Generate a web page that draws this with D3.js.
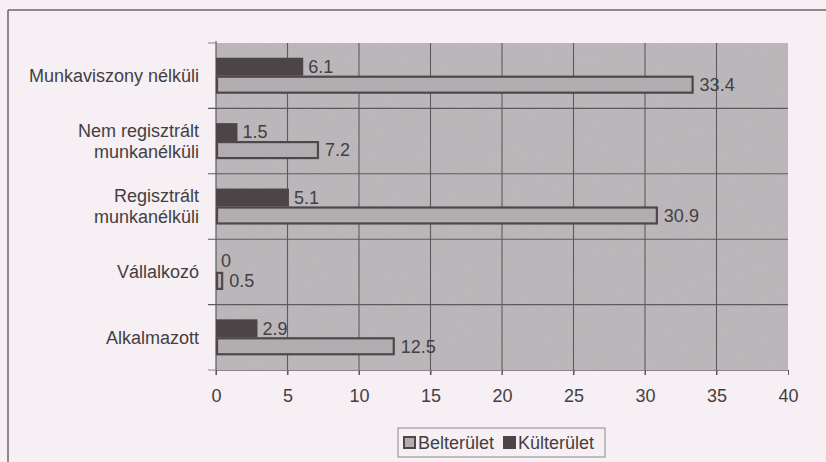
<!DOCTYPE html>
<html>
<head>
<meta charset="utf-8">
<script src="https://cdn.jsdelivr.net/npm/d3@7/dist/d3.min.js"></script>
<style>
  html, body { margin: 0; padding: 0; background: #f6eff4; }
  svg { display: block; }
  text { font-family: "Liberation Sans", Arial, sans-serif; fill: #434043; }
</style>
</head>
<body>
<svg id="chart" width="826" height="462"></svg>
<script>
// Categories, top to bottom
const categories = [
  ["Munkaviszony nélküli"],
  ["Nem regisztrált", "munkanélküli"],
  ["Regisztrált", "munkanélküli"],
  ["Vállalkozó"],
  ["Alkalmazott"]
];
const seriesNames = ["Külterület", "Belterület"];
const kulterulet = [6.1, 1.5, 5.1, 0, 2.9];
const belterulet = [33.4, 7.2, 30.9, 0.5, 12.5];
const xTicks = [0, 5, 10, 15, 20, 25, 30, 35, 40];

const svg = d3.select("#chart");
const W = 826, H = 462;
const plot = { left: 216, right: 788, top: 43, bottom: 370 };
const FS = 18;

const colors = {
  page: "#f6eff4",
  plotBg: "#bcb7ba",
  grid: "#5f5a5d",
  dark: "#4b4548",
  lightFill: "#b2adb0",
  lightStroke: "#4e474a",
  frame: "#6b6669"
};

// Paper grain for the shaded plot area
const defs = svg.append("defs");
const grain = defs.append("filter").attr("id", "grain")
  .attr("x", 0).attr("y", 0).attr("width", 1).attr("height", 1);
grain.append("feTurbulence").attr("type", "fractalNoise")
  .attr("baseFrequency", 0.75).attr("numOctaves", 2).attr("seed", 7).attr("result", "noise");
grain.append("feColorMatrix").attr("in", "noise").attr("type", "saturate").attr("values", 0).attr("result", "gray");
const ct = grain.append("feComponentTransfer").attr("in", "gray").attr("result", "scaled");
["feFuncR", "feFuncG", "feFuncB"].forEach(f =>
  ct.append(f).attr("type", "linear").attr("slope", 0.45).attr("intercept", 0.76));
grain.append("feBlend").attr("in", "SourceGraphic").attr("in2", "scaled").attr("mode", "multiply");

// Outer frame (top and left edges)
svg.append("line").attr("x1", 8).attr("x2", 826).attr("y1", 10).attr("y2", 10)
  .attr("stroke", colors.frame).attr("stroke-width", 1.5);
svg.append("line").attr("x1", 8).attr("x2", 8).attr("y1", 10).attr("y2", H)
  .attr("stroke", colors.frame).attr("stroke-width", 1.5);

const x = d3.scaleLinear().domain([0, 40]).range([plot.left, plot.right]);
const y = d3.scaleBand().domain(d3.range(categories.length)).range([plot.top, plot.bottom]);
const ySub = d3.scaleBand().domain(seriesNames).range([0, y.bandwidth()]).paddingOuter(0.82);

// Plot background
svg.append("rect")
  .attr("x", plot.left).attr("y", plot.top)
  .attr("width", plot.right - plot.left).attr("height", plot.bottom - plot.top)
  .attr("fill", colors.plotBg).attr("filter", "url(#grain)");

// Vertical grid lines and ticks
svg.append("g").selectAll("line")
  .data(xTicks.filter(t => t > 0 && t < 40))
  .join("line")
  .attr("x1", d => x(d)).attr("x2", d => x(d))
  .attr("y1", plot.top).attr("y2", plot.bottom + 5)
  .attr("stroke", colors.grid).attr("stroke-width", 1.1);

// Horizontal grid lines at category boundaries
const boundaries = d3.range(1, categories.length).map(i => y(i));
svg.append("g").selectAll("line")
  .data(boundaries)
  .join("line")
  .attr("x1", plot.left - 8).attr("x2", plot.right)
  .attr("y1", d => d).attr("y2", d => d)
  .attr("stroke", colors.grid).attr("stroke-width", 1.1);

// Bottom axis
const xAxis = svg.append("g")
  .attr("transform", `translate(0,${plot.bottom})`)
  .call(d3.axisBottom(x).tickValues(xTicks).tickSize(5).tickPadding(14).tickFormat(d3.format("d")));
xAxis.select(".domain").attr("stroke", "#8a8588").attr("stroke-width", 1);
xAxis.selectAll(".tick line").attr("stroke", colors.grid);
xAxis.selectAll(".tick text").attr("font-size", FS).attr("fill", "#444043")
  .attr("font-family", "\"Liberation Sans\", Arial, sans-serif");

// Left axis line with category ticks
svg.append("line").attr("x1", plot.left).attr("x2", plot.left)
  .attr("y1", plot.top - 2).attr("y2", plot.bottom + 5)
  .attr("stroke", colors.grid).attr("stroke-width", 1.2);
svg.append("g").selectAll("line")
  .data([plot.top, plot.bottom])
  .join("line")
  .attr("x1", plot.left - 8).attr("x2", plot.left)
  .attr("y1", d => d).attr("y2", d => d)
  .attr("stroke", "#8a8588").attr("stroke-width", 1);

// Category labels
const catG = svg.append("g");
categories.forEach((lines, i) => {
  const cy = y(i) + y.bandwidth() / 2;
  const lh = 21;
  const t = catG.append("text")
    .attr("x", 199).attr("text-anchor", "end").attr("font-size", FS);
  lines.forEach((ln, j) => {
    t.append("tspan").attr("x", 199)
      .attr("y", cy + (j - (lines.length - 1) / 2) * lh)
      .attr("dy", "0.35em").text(ln);
  });
});

// Bars
const rows = categories.map((c, i) => ({ i, k: kulterulet[i], b: belterulet[i] }));
const bars = svg.append("g");

bars.selectAll("rect.kul")
  .data(rows).join("rect").attr("class", "kul")
  .attr("x", x(0))
  .attr("y", d => y(d.i) + ySub("Külterület"))
  .attr("width", d => x(d.k) - x(0))
  .attr("height", ySub.bandwidth())
  .attr("fill", colors.dark);

bars.selectAll("rect.bel")
  .data(rows).join("rect").attr("class", "bel")
  .attr("x", x(0) + 1)
  .attr("y", d => y(d.i) + ySub("Belterület") + 1)
  .attr("width", d => Math.max(0, x(d.b) - x(0) - 2))
  .attr("height", ySub.bandwidth() - 2)
  .attr("fill", colors.lightFill)
  .attr("stroke", colors.lightStroke).attr("stroke-width", 2.2);

// Value labels
const fmt = v => (v === 0 ? "0" : d3.format(".1f")(v));
bars.selectAll("text.kul")
  .data(rows).join("text").attr("class", "kul")
  .attr("x", d => x(d.k) + 5)
  .attr("y", d => y(d.i) + ySub("Külterület") + ySub.bandwidth() / 2 - (d.k === 0 ? 2 : 0))
  .attr("dy", "0.35em").attr("font-size", FS)
  .text(d => fmt(d.k));

bars.selectAll("text.bel")
  .data(rows).join("text").attr("class", "bel")
  .attr("x", d => x(d.b) + 6)
  .attr("y", d => y(d.i) + ySub("Belterület") + ySub.bandwidth() / 2)
  .attr("dy", "0.35em").attr("font-size", FS)
  .text(d => fmt(d.b));

// Legend
const lg = svg.append("g");
lg.append("rect").attr("x", 398).attr("y", 428).attr("width", 207).attr("height", 29)
  .attr("fill", "none").attr("stroke", "#8d888b").attr("stroke-width", 1);
const legendItems = [
  { name: "Belterület", x: 403, fill: colors.lightFill, stroke: colors.lightStroke },
  { name: "Külterület", x: 503, fill: colors.dark, stroke: colors.dark }
];
legendItems.forEach(it => {
  lg.append("rect").attr("x", it.x + 1).attr("y", 437).attr("width", 11).attr("height", 11)
    .attr("fill", it.fill).attr("stroke", it.stroke).attr("stroke-width", 2);
  lg.append("text").attr("x", it.x + 15).attr("y", 442.5).attr("dy", "0.35em")
    .attr("font-size", FS).text(it.name);
});
</script>
</body>
</html>
